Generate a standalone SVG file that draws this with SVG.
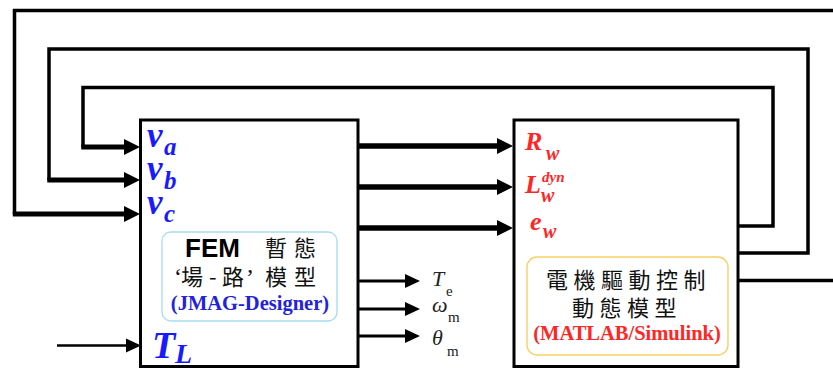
<svg xmlns="http://www.w3.org/2000/svg" width="833" height="369" viewBox="0 0 833 369">
<defs>
<style>
.blk{fill:#fff;stroke:#000;stroke-width:3}
.loop{fill:none;stroke:#000;stroke-width:3.5;stroke-linejoin:miter}
.thick{stroke:#000;stroke-width:5.5}
.med{stroke:#000;stroke-width:5}
.thin{stroke:#000;stroke-width:3}
.vlab{font-family:"Liberation Serif",serif;font-weight:bold;font-style:italic;fill:#1a1aff}
.rlab{font-family:"Liberation Serif",serif;font-weight:bold;font-style:italic;fill:#ff2626}
.olab{font-family:"Liberation Serif",serif;fill:#222}
.cjk{font-family:"Noto Sans CJK TC","Noto Sans CJK SC",sans-serif;font-size:22px;fill:#111}
</style>
<marker id="ahBig" markerUnits="userSpaceOnUse" markerWidth="17" markerHeight="17" refX="0" refY="8" orient="auto" overflow="visible">
<path d="M0,0 L16,8 L0,16 z" fill="#000"/>
</marker>
<marker id="ahSmall" markerUnits="userSpaceOnUse" markerWidth="16" markerHeight="16" refX="0" refY="7" orient="auto" overflow="visible">
<path d="M0,0 L15,7 L0,14 z" fill="#000"/>
</marker>
</defs>
<rect width="833" height="369" fill="#fff"/>

<g id="connectors">
<path class="loop" d="M833,10.5 H14.5 V214"/>
<line class="med" x1="12.75" y1="214" x2="124" y2="214" marker-end="url(#ahBig)"/>
<path class="loop" d="M738,253 H808 V49 H49 V180"/>
<line class="med" x1="47.25" y1="180" x2="124" y2="180" marker-end="url(#ahBig)"/>
<path class="loop" d="M738,226 H773 V87.5 H83 V147"/>
<line class="med" x1="81.25" y1="147" x2="124" y2="147" marker-end="url(#ahBig)"/>
<line class="loop" x1="738" y1="280.5" x2="833" y2="280.5"/>
<line class="thick" x1="358" y1="146" x2="497" y2="146" marker-end="url(#ahBig)"/>
<line class="thick" x1="358" y1="187" x2="497" y2="187" marker-end="url(#ahBig)"/>
<line class="thick" x1="358" y1="228" x2="497" y2="228" marker-end="url(#ahBig)"/>
<line class="thin" x1="358" y1="281" x2="405" y2="281" marker-end="url(#ahSmall)"/>
<line class="thin" x1="358" y1="309" x2="405" y2="309" marker-end="url(#ahSmall)"/>
<line class="thin" x1="358" y1="336" x2="405" y2="336" marker-end="url(#ahSmall)"/>
<line stroke="#000" stroke-width="2.6" x1="57" y1="345.5" x2="126" y2="345.5" marker-end="url(#ahSmall)"/>
</g>

<g id="fem-block">
<rect class="blk" x="140.5" y="120" width="217.5" height="246.5"/>
<text class="vlab" x="147" y="147" font-size="35">v<tspan x="164" y="155" font-size="25">a</tspan></text>
<text class="vlab" x="147" y="180" font-size="35">v<tspan x="164" y="189" font-size="25">b</tspan></text>
<text class="vlab" x="147" y="214" font-size="35">v<tspan x="164" y="222" font-size="25">c</tspan></text>
<rect x="162" y="232" width="175" height="89" rx="9" fill="#fff" stroke="#a6dcf0" stroke-width="1.3"/>
<text x="185" y="256.5" font-family="'Liberation Sans',Arial,sans-serif" font-weight="bold" font-size="26" fill="#000">FEM</text>
<text class="cjk"><tspan x="265" y="256">暫</tspan><tspan x="294" y="256">態</tspan></text>
<text class="cjk"><tspan x="174" y="285" font-family="'Liberation Serif',serif" font-size="24">‘</tspan><tspan x="181" y="285">場</tspan><tspan x="209" y="285">-</tspan><tspan x="222" y="285">路</tspan><tspan x="246" y="285" font-family="'Liberation Serif',serif" font-size="24">’</tspan><tspan x="265" y="285">模</tspan><tspan x="294" y="285">型</tspan></text>
<text x="250" y="310" text-anchor="middle" font-family="'Liberation Serif',serif" font-weight="bold" font-size="20.5" fill="#2222dd">(JMAG-Designer)</text>
<text class="vlab" x="152" y="358" font-size="38">T<tspan x="175" y="363" font-size="28">L</tspan></text>
</g>

<g id="outputs">
<text class="olab" x="432" y="286" font-size="22" font-style="italic">T<tspan x="446" y="296" font-size="15" font-style="normal">e</tspan></text>
<text class="olab" x="432" y="312" font-size="22" font-style="italic">ω<tspan x="448" y="322" font-size="15" font-style="normal">m</tspan></text>
<text class="olab" x="432" y="345" font-size="22" font-style="italic">θ<tspan x="447" y="356" font-size="15" font-style="normal">m</tspan></text>
</g>

<g id="drive-block">
<rect class="blk" x="514" y="120" width="224" height="246.5"/>
<text class="rlab" x="525" y="150" font-size="26">R<tspan x="546" y="160" font-size="20">w</tspan></text>
<text class="rlab" x="525" y="193" font-size="26">L<tspan x="542" y="182" font-size="15">dyn</tspan><tspan x="541" y="202" font-size="20">w</tspan></text>
<text class="rlab" x="530" y="230" font-size="26">e<tspan x="543" y="238" font-size="20">w</tspan></text>
<rect x="527" y="257" width="201" height="98" rx="10" fill="#fff" stroke="#f8cf6a" stroke-width="1.4"/>
<text class="cjk" x="546" y="288" font-size="23" letter-spacing="5.5">電機驅動控制</text>
<text class="cjk" x="572" y="316" font-size="23" letter-spacing="5.5">動態模型</text>
<text x="627" y="340" text-anchor="middle" font-family="'Liberation Serif',serif" font-weight="bold" font-size="20.5" fill="#ff2626">(MATLAB/Simulink)</text>
</g>
</svg>
